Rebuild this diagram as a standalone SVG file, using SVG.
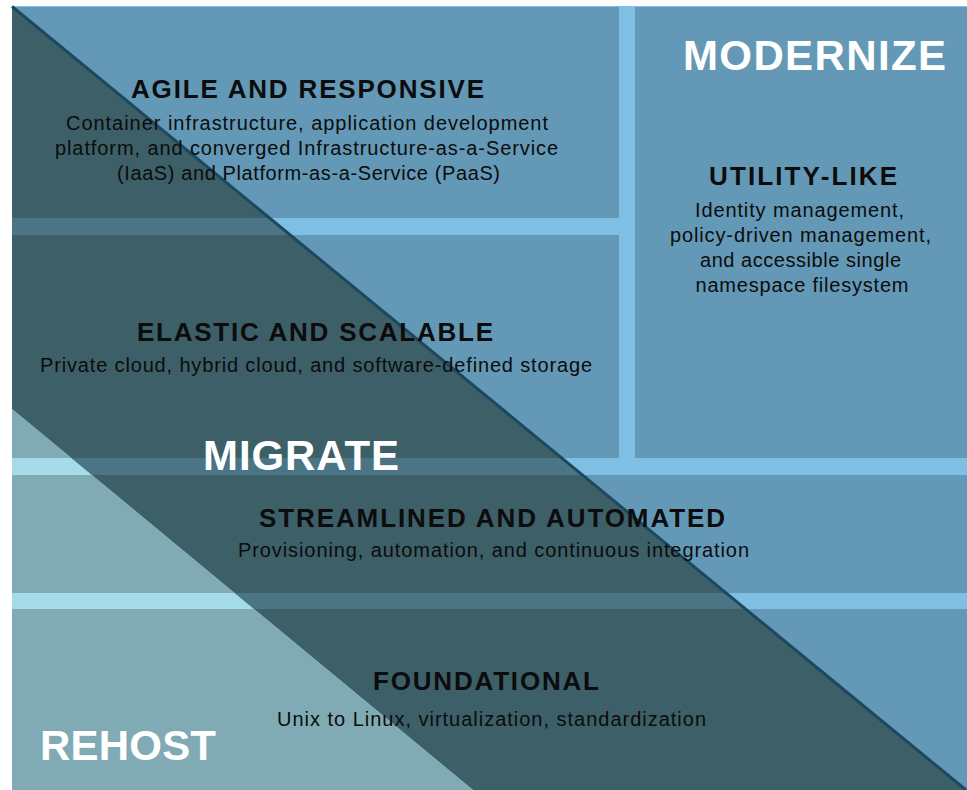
<svg xmlns="http://www.w3.org/2000/svg" width="967" height="790" viewBox="0 0 967 790">
<style>
.gap{fill:#7fbfe3}
.tile{fill:#6399b6}
.mgap{fill:#4b7584}
.mtile{fill:#3c5f68}
.rgap{fill:#a3dbe8}
.rtile{fill:#80abb4}
.h{font-family:"Liberation Sans",Arial,sans-serif;font-weight:bold;font-size:26px;fill:#0c0c0c;text-anchor:middle}
.b{font-family:"Liberation Sans",Arial,sans-serif;font-size:20px;fill:#0c0c0c;text-anchor:middle}
.big{font-family:"Liberation Sans",Arial,sans-serif;font-weight:bold;font-size:42px;fill:#ffffff;text-anchor:middle}
</style>
<defs>
<clipPath id="cm"><polygon points="12,6.5 966,790 12,790"/></clipPath>
<clipPath id="cr"><polygon points="12,409 473,790 12,790"/></clipPath>
<g id="tiles">
<rect x="12" y="7" width="607" height="211"/>
<rect x="635" y="7" width="332" height="451"/>
<rect x="12" y="235" width="607" height="223"/>
<rect x="12" y="475" width="955" height="118"/>
<rect x="12" y="609" width="955" height="181"/>
</g>
</defs>
<rect class="gap" x="12" y="6" width="955" height="784"/>
<use href="#tiles" class="tile"/>
<g clip-path="url(#cm)">
<rect class="mgap" x="12" y="6" width="955" height="784"/>
<use href="#tiles" class="mtile"/>
</g>
<g clip-path="url(#cr)">
<rect class="rgap" x="12" y="6" width="955" height="784"/>
<use href="#tiles" class="rtile"/>
</g>
<g id="connectors">
<line x1="12" y1="6.5" x2="966" y2="790" stroke="#1c4860" stroke-width="3"/>
</g>
<g id="agile">
<text class="h" x="307.5" y="98" textLength="353" lengthAdjust="spacing">AGILE AND RESPONSIVE</text>
<text class="b" x="307" y="130" textLength="482" lengthAdjust="spacing">Container infrastructure, application development</text>
<text class="b" x="306.5" y="155" textLength="503" lengthAdjust="spacing">platform, and converged Infrastructure-as-a-Service</text>
<text class="b" x="308.5" y="180" textLength="383" lengthAdjust="spacing">(IaaS) and Platform-as-a-Service (PaaS)</text>
</g>
<g id="modernize">
<text class="big" x="814.5" y="70" textLength="263" lengthAdjust="spacing">MODERNIZE</text>
</g>
<g id="utility">
<text class="h" x="803" y="185" textLength="188" lengthAdjust="spacing">UTILITY-LIKE</text>
<text class="b" x="799.5" y="217" textLength="209" lengthAdjust="spacing">Identity management,</text>
<text class="b" x="800.5" y="242" textLength="261" lengthAdjust="spacing">policy-driven management,</text>
<text class="b" x="800.5" y="267" textLength="201" lengthAdjust="spacing">and accessible single</text>
<text class="b" x="802" y="292" textLength="213" lengthAdjust="spacing">namespace filesystem</text>
</g>
<g id="elastic">
<text class="h" x="315" y="341" textLength="356" lengthAdjust="spacing">ELASTIC AND SCALABLE</text>
<text class="b" x="316" y="372" textLength="552" lengthAdjust="spacing">Private cloud, hybrid cloud, and software-defined storage</text>
</g>
<g id="migrate">
<text class="big" x="301" y="470" textLength="196" lengthAdjust="spacing">MIGRATE</text>
</g>
<g id="streamlined">
<text class="h" x="492" y="527" textLength="466" lengthAdjust="spacing">STREAMLINED AND AUTOMATED</text>
<text class="b" x="493.5" y="557" textLength="511" lengthAdjust="spacing">Provisioning, automation, and continuous integration</text>
</g>
<g id="foundational">
<text class="h" x="486" y="690" textLength="226" lengthAdjust="spacing">FOUNDATIONAL</text>
<text class="b" x="491.5" y="726" textLength="429" lengthAdjust="spacing">Unix to Linux, virtualization, standardization</text>
</g>
<g id="rehost">
<text class="big" x="128" y="760" textLength="176" lengthAdjust="spacing">REHOST</text>
</g>
</svg>
